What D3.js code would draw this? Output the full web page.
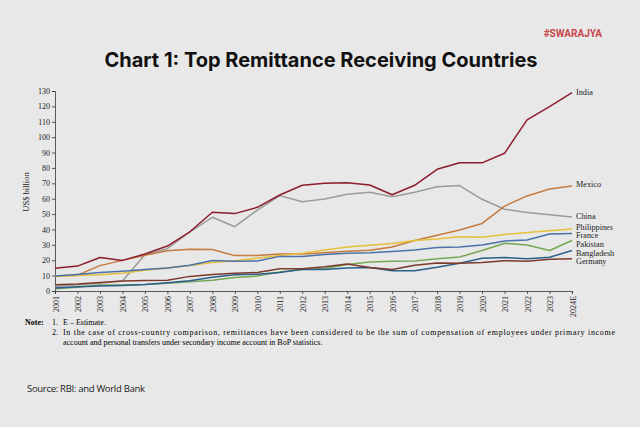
<!DOCTYPE html>
<html>
<head>
<meta charset="utf-8">
<script src="https://cdn.jsdelivr.net/npm/d3@7"></script>
<style>
  html, body { margin: 0; padding: 0; background: #e8e8e8; }
  svg { display: block; }
  .axis path, .axis line { stroke: #333; stroke-width: 0.8; }
  .axis text { font-family: "Liberation Serif", "DejaVu Serif", serif; font-size: 8px; fill: #222; }
</style>
</head>
<body>
<div id="chart"></div>
<script>
// chart data (US$ billion)
const years = ["2001","2002","2003","2004","2005","2006","2007","2008","2009","2010","2011","2012",
  "2013","2014","2015","2016","2017","2018","2019","2020","2021","2022","2023","2024E"];
const yTicks = [0,10,20,30,40,50,60,70,80,90,100,110,120,130];

const india      = [14.8,16.2,21.8,19.9,24.0,29.2,38.5,51.2,50.3,54.4,62.4,68.7,70.0,70.4,68.9,62.6,68.7,79.1,83.4,83.3,89.5,111.2,119.8,128.9];
const china      = [3.0,4.0,5.0,6.5,23.5,27.5,38.5,47.9,41.8,52.6,62.0,58.0,59.8,62.9,64.2,61.3,64.2,67.8,68.5,59.6,53.1,51.0,49.6,48.1];
const mexico     = [9.8,10.3,16.5,19.9,23.2,26.2,27.2,27.0,23.0,23.0,24.0,24.0,24.8,25.8,26.5,28.6,32.8,36.3,39.6,43.9,55.2,61.8,66.3,68.3];
const philippines= [9.5,10.0,10.5,11.5,13.5,15.0,16.5,18.6,19.7,21.3,23.0,24.5,26.7,28.6,29.8,30.8,32.8,33.8,35.2,35.0,36.7,38.0,39.2,40.3];
const france     = [9.8,10.8,12.0,12.8,13.9,15.0,16.8,19.8,19.3,19.5,22.5,22.5,23.8,24.5,24.8,25.6,26.7,28.2,28.6,29.9,32.5,33.2,37.0,37.3];
const pakistan   = [1.5,2.5,3.9,3.9,4.3,5.1,6.0,7.0,8.7,9.7,12.3,14.0,14.6,17.2,18.9,19.3,19.5,21.0,22.1,26.3,31.0,29.9,26.3,32.8];
const bangladesh = [2.0,2.8,3.2,3.6,4.3,5.4,6.6,8.9,10.5,10.9,12.1,14.1,13.9,15.0,15.3,13.2,13.2,15.4,18.0,21.3,21.7,21.0,21.9,26.3];
const germany    = [4.0,4.5,5.5,6.5,6.8,7.0,9.5,10.8,11.5,12.0,14.5,14.5,15.8,17.5,15.2,14.0,16.7,18.2,18.0,18.5,19.7,19.3,20.6,21.0];

const countries = ["China","Mexico","Philippines","France","Pakistan","Bangladesh","Germany","India"];
const seriesValues = [china, mexico, philippines, france, pakistan, bangladesh, germany, india];
const colors = ["#9b9b9b","#c67a3e","#e6c13c","#4a72a8","#76a854","#2b5f8c","#7b3a2c","#8b1d2e"];
// label y offsets so the crowded ones don't overlap
const labelShift = {India:-1, Mexico:-2, China:-1.5, Philippines:-2.5, France:1.5, Pakistan:3.5, Bangladesh:2, Germany:2.5};

// set the dimensions of the page and plot
const width = 640, height = 427;
const plot = { left: 55, right: 572, top: 91, bottom: 291 };

const svg = d3.select("#chart").append("svg")
    .attr("width", width)
    .attr("height", height);

svg.append("rect").attr("width", width).attr("height", height).attr("fill", "#e8e8e8");

// brand + title
svg.append("text")
    .attr("x", 602).attr("y", 37)
    .attr("text-anchor", "end")
    .style("font-family", "'Liberation Sans Narrow', 'Roboto', sans-serif")
    .style("font-weight", "bold")
    .style("font-size", "10px")
    .style("fill", "#c8464c")
    .text("#SWARAJYA");

svg.append("text")
    .attr("x", 321).attr("y", 67)
    .attr("text-anchor", "middle")
    .style("font-family", "Inter, 'Noto Sans', sans-serif")
    .style("font-weight", "bold")
    .style("font-size", "20px")
    .style("fill", "#111")
    .text("Chart 1: Top Remittance Receiving Countries");

// scales
const x = d3.scalePoint().domain(years).range([plot.left, plot.right]);
const y = d3.scaleLinear().domain([0, 130]).range([plot.bottom, plot.top]);

// axes
svg.append("g")
    .attr("class", "axis")
    .attr("transform", `translate(${plot.left},0)`)
    .call(d3.axisLeft(y).tickValues(yTicks).tickSize(3).tickPadding(2));

svg.append("g")
    .attr("class", "axis")
    .attr("transform", `translate(0,${plot.bottom})`)
    .call(d3.axisBottom(x).tickSize(3).tickPadding(2))
    .selectAll("text")
    .attr("text-anchor", "end")
    .attr("dy", null)
    .attr("y", 0)
    .attr("transform", "translate(3,5) rotate(-90)");

svg.append("text")
    .attr("transform", "translate(29,192) rotate(-90)")
    .attr("text-anchor", "middle")
    .style("font-family", "'Liberation Serif', serif")
    .style("font-size", "8.5px")
    .style("fill", "#222")
    .text("US$ billion");

// lines
const line = d3.line()
    .x((d, i) => x(years[i]))
    .y(d => y(d));

svg.selectAll(".series")
    .data(seriesValues)
    .enter().append("path")
    .attr("class", "series")
    .attr("fill", "none")
    .attr("stroke", (d, i) => colors[i])
    .attr("stroke-width", 1.5)
    .attr("stroke-linejoin", "round")
    .attr("d", line);

// end labels
svg.selectAll(".lbl")
    .data(countries)
    .enter().append("text")
    .attr("class", "lbl")
    .attr("x", plot.right + 4)
    .attr("y", (d, i) => y(seriesValues[i][years.length - 1]) + 3 + labelShift[d])
    .style("font-family", "'Liberation Serif', serif")
    .style("font-size", "8.2px")
    .style("fill", "#222")
    .text(d => d);

// notes
const noteFont = "'Liberation Serif', serif";
svg.append("text").attr("x", 25).attr("y", 325)
    .style("font-family", noteFont).style("font-size", "8px").style("font-weight", "bold")
    .text("Note:");
svg.append("text").attr("x", 52).attr("y", 325)
    .style("font-family", noteFont).style("font-size", "8px").text("1.");
svg.append("text").attr("x", 63).attr("y", 325)
    .style("font-family", noteFont).style("font-size", "8px").text("E \u2013 Estimate.");
svg.append("text").attr("x", 52).attr("y", 335)
    .style("font-family", noteFont).style("font-size", "8px").text("2.");
svg.append("text").attr("x", 63).attr("y", 335)
    .attr("textLength", 552).attr("lengthAdjust", "spacing")
    .style("font-family", noteFont).style("font-size", "8px")
    .text("In the case of cross-country comparison, remittances have been considered to be the sum of compensation of employees under primary income");
svg.append("text").attr("x", 63).attr("y", 345)
    .style("font-family", noteFont).style("font-size", "8px")
    .text("account and personal transfers under secondary income account in BoP statistics.");

// source
svg.append("text").attr("x", 27).attr("y", 392)
    .style("font-family", "'Open Sans', 'Liberation Sans', sans-serif")
    .style("font-size", "9.5px")
    .style("letter-spacing", "-0.3px")
    .style("fill", "#222")
    .text("Source: RBI: and World Bank");
</script>
</body>
</html>
